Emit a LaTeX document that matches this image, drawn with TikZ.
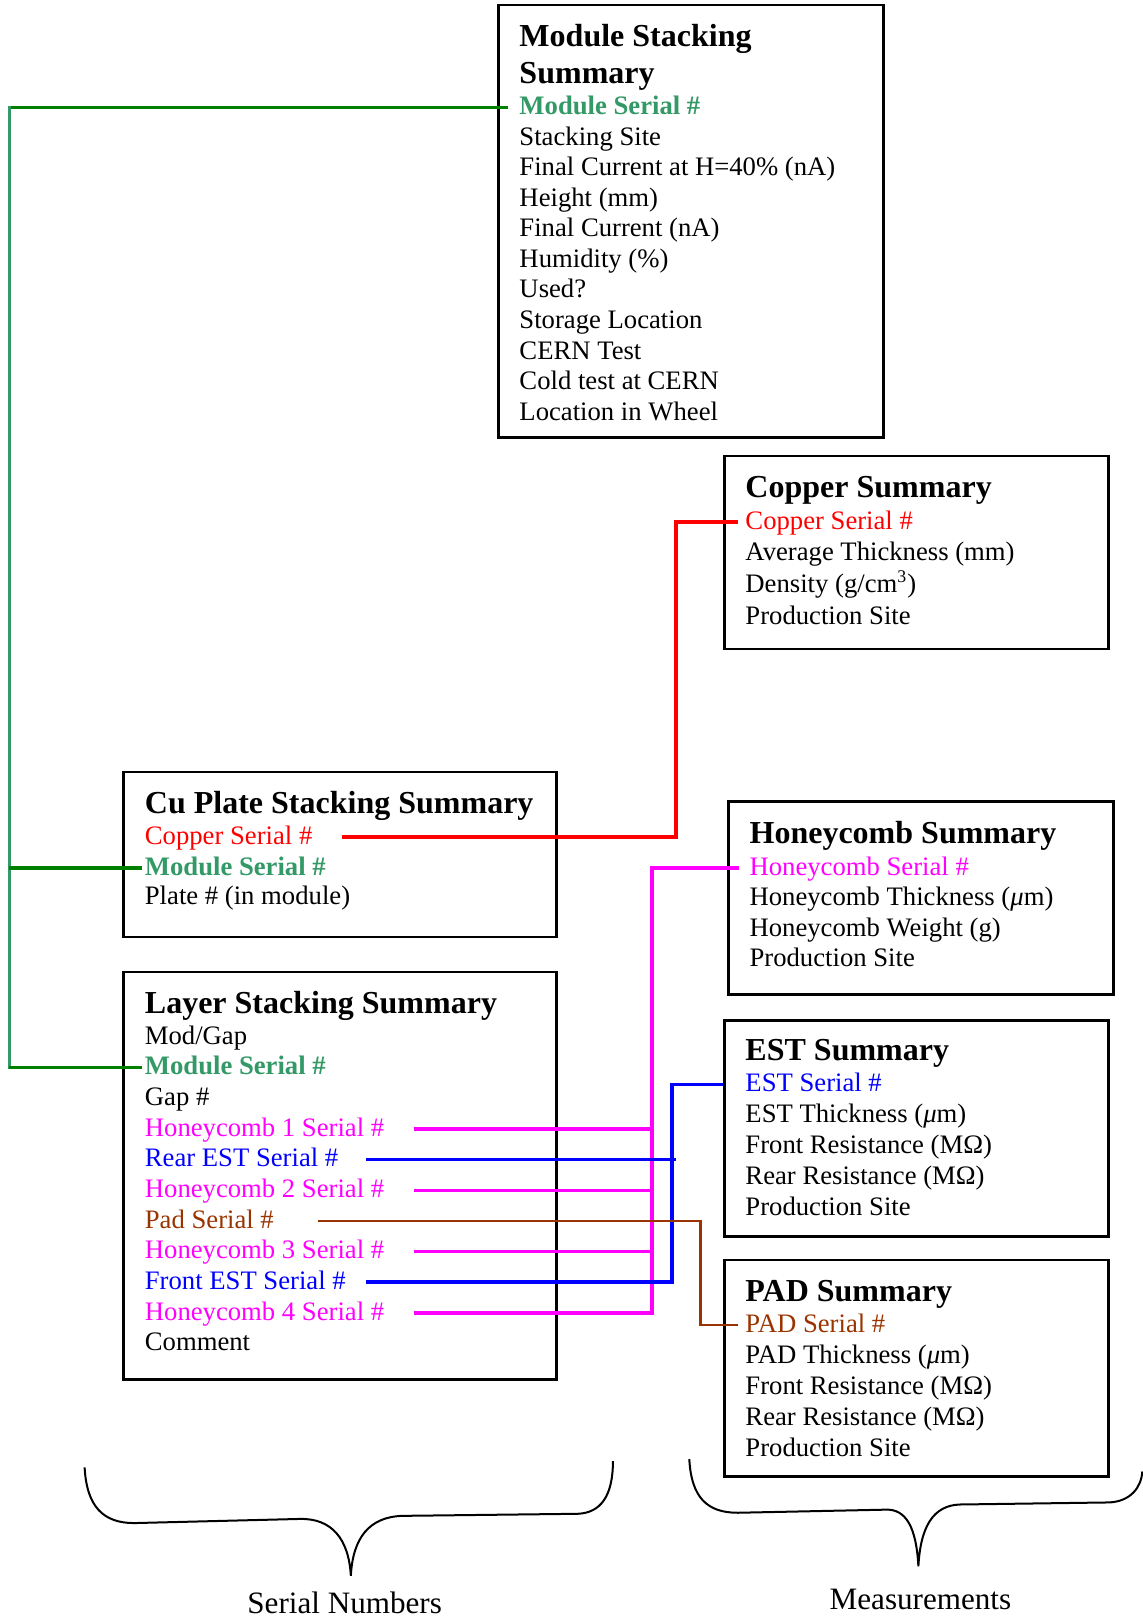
\documentclass[tikz,border=0pt]{standalone}
\usepackage{fontspec}
\setmainfont{Liberation Serif}
\usetikzlibrary{positioning, fit}
\definecolor{serialgreen}{HTML}{339966}
\definecolor{wiregreen}{HTML}{008000}
\definecolor{padbrown}{HTML}{993300}
\definecolor{hcmagenta}{RGB}{255,0,255}

\begin{document}
\begin{tikzpicture}[
x=0.4642pt, y=-0.4642pt,
every node/.style={font=\fontsize{12}{14}\selectfont},
panel/.style={draw, line width=1.2pt, inner sep=0pt},
title/.style={anchor=base west, inner sep=0pt, align=left, font=\bfseries\fontsize{14.4}{16.5}\selectfont},
field/.style={anchor=base west, inner sep=0pt, text height=9pt, text depth=2.5pt},
modfield/.style={field, text=serialgreen, font=\fontsize{12}{14}\selectfont\bfseries},
caption/.style={font=\fontsize{14}{16}\selectfont},
wire/.style={line width=1.6pt},
brace/.style={line width=0.9pt}
]
\useasboundingbox (0,0) rectangle (1107,1568);

% module stacking summary
\node[panel, fit={(483,5) (856,424)}] (mss) {};
\node[title] (mss-t) at (503,80.5) {Module Stacking\\Summary};
\node[modfield] (mss-ser) at (503,111) {Module Serial \#};
\foreach \txt [count=\i] in {Stacking Site, Final Current at H=40\% (nA), Height (mm), Final Current (nA), Humidity (\%), Used?, Storage Location, CERN Test, Cold test at CERN, Location in Wheel}
  \node[field] (mss-\i) at (503,{111+29.63*\i}) {\txt};

% copper summary
\node[panel, fit={(702,442) (1074,629)}] (cop) {};
\node[title] (cop-t) at (722,482) {Copper Summary};
\node[field, text=red] (cop-ser) at (722,513) {Copper Serial \#};
\node[field] (cop-1) at (722,543) {Average Thickness (mm)};
\node[field] (cop-2) at (722,574) {Density (g/cm\textsuperscript{3})};
\node[field] (cop-3) at (722,605) {Production Site};

% cu plate stacking summary
\node[panel, fit={(120,748) (539,908)}] (cup) {};
\node[title] (cup-t) at (140,788) {Cu Plate Stacking Summary};
\node[field, text=red] (cup-cu) at (140,818) {Copper Serial \#};
\node[modfield] (cup-mod) at (140,848) {Module Serial \#};
\node[field] (cup-pl) at (140,877) {Plate \# (in module)};

% honeycomb summary
\node[panel, fit={(706,777) (1079,964)}] (hon) {};
\node[title] (hon-t) at (726,817) {Honeycomb Summary};
\node[field, text=hcmagenta] (hon-ser) at (726,848) {Honeycomb Serial \#};
\foreach \txt [count=\i] in {Honeycomb Thickness (\textit{μ}m), Honeycomb Weight (g), Production Site}
  \node[field] (hon-\i) at (726,{848+29.7*\i}) {\txt};

% layer stacking summary
\node[panel, fit={(120,942) (539,1337)}] (lay) {};
\node[title] (lay-t) at (140,982) {Layer Stacking Summary};
\node[field] (lay-mg) at (140,1012) {Mod/Gap};
\node[modfield] (lay-mod) at (140,1041.7) {Module Serial \#};
\node[field] (lay-gap) at (140,1071.4) {Gap \#};
\node[field, text=hcmagenta] (lay-h1) at (140,1101.1) {Honeycomb 1 Serial \#};
\node[field, text=blue] (lay-rest) at (140,1130.8) {Rear EST Serial \#};
\node[field, text=hcmagenta] (lay-h2) at (140,1160.5) {Honeycomb 2 Serial \#};
\node[field, text=padbrown] (lay-pad) at (140,1190.2) {Pad Serial \#};
\node[field, text=hcmagenta] (lay-h3) at (140,1219.9) {Honeycomb 3 Serial \#};
\node[field, text=blue] (lay-fest) at (140,1249.6) {Front EST Serial \#};
\node[field, text=hcmagenta] (lay-h4) at (140,1279.3) {Honeycomb 4 Serial \#};
\node[field] (lay-com) at (140,1309) {Comment};

% est summary
\node[panel, fit={(702,989) (1074,1198)}] (est) {};
\node[title] (est-t) at (722,1028) {EST Summary};
\node[field, text=blue] (est-ser) at (722,1058) {EST Serial \#};
\foreach \txt [count=\i] in {EST Thickness (\textit{μ}m), Front Resistance (MΩ), Rear Resistance (MΩ), Production Site}
  \node[field] (est-\i) at (722,{1058+30*\i}) {\txt};

% pad summary
\node[panel, fit={(702,1221) (1074,1431)}] (pad) {};
\node[title] (pad-t) at (722,1261) {PAD Summary};
\node[field, text=padbrown] (pad-ser) at (722,1291) {PAD Serial \#};
\foreach \txt [count=\i] in {PAD Thickness (\textit{μ}m), Front Resistance (MΩ), Rear Resistance (MΩ), Production Site}
  \node[field] (pad-\i) at (722,{1291+30*\i}) {\txt};

% trunks
\coordinate (gx) at (9,0);
\coordinate (rx) at (655,0);
\coordinate (px) at (632,0);
\coordinate (bx) at (651,0);
\coordinate (brx) at (679,0);

% module serial links
\draw[wire, wiregreen, shorten <=5pt] (mss-ser.west) -- (mss-ser.west -| gx);
\draw[wire, serialgreen, line cap=rect] (mss-ser.west -| gx) -- (gx |- lay-mod.west);
\draw[wire, wiregreen, shorten >=1pt] (gx |- cup-mod.west) -- (cup-mod.west);
\draw[wire, wiregreen, shorten >=1pt] (gx |- lay-mod.west) -- (lay-mod.west);

% copper link
\draw[wire, red, shorten <=13pt, shorten >=3pt] (cup-cu.east) -| (rx |- cop-ser.west) -- (cop-ser.west);

% honeycomb links
\draw[wire, hcmagenta, shorten <=4.5pt, shorten >=13pt] (hon-ser.west) -- (hon-ser.west -| px) |- (lay-h4.east);
\foreach \k in {h1,h2,h3}
  \draw[wire, hcmagenta, shorten <=13pt] (lay-\k.east) -- (lay-\k.east -| px);

% est links
\draw[wire, blue, shorten >=9pt] (est-ser.west -| est.west) -- (est-ser.west -| bx) |- (lay-fest.east);
\draw[wire, blue, shorten <=12.5pt, shorten >=-2pt] (lay-rest.east) -- (lay-rest.east -| bx);

% pad link
\draw[wire, padbrown, line width=1.2pt, shorten <=19.5pt, shorten >=3pt] (lay-pad.east) -| (brx |- pad-ser.west) -- (pad-ser.west);

% braces
\draw[brace] (82,1422) .. controls (84,1460) and (100,1476) .. (130,1476) -- (290,1472)
  .. controls (322,1471) and (338,1492) .. (340,1527)
  .. controls (342,1490) and (358,1470) .. (390,1469) -- (560,1467)
  .. controls (582,1466) and (594,1450) .. (594,1416);
\draw[brace] (668,1414) .. controls (670,1452) and (686,1466) .. (715,1466) -- (858,1463)
  .. controls (878,1462) and (888,1480) .. (890,1518)
  .. controls (892,1480) and (904,1459) .. (930,1458) -- (1075,1456)
  .. controls (1095,1455) and (1106,1442) .. (1107,1426);

\node[caption] (sn) at (334,1553) {Serial Numbers};
\node[caption] (ms) at (892,1550) {Measurements};

\end{tikzpicture}
\end{document}
